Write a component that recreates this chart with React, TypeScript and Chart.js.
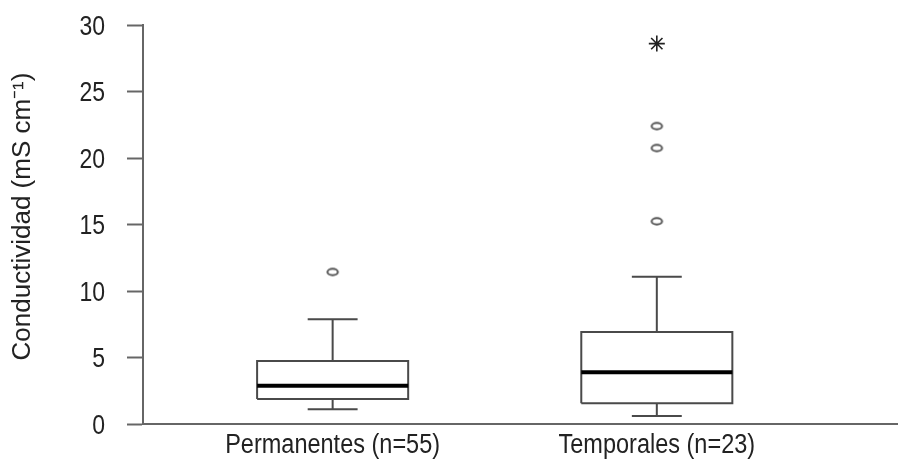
import React, { useEffect, useRef } from 'react';
import { Chart, registerables } from 'chart.js';

Chart.register(...registerables);

// ---- data ----
const categories = ['Permanentes (n=55)', 'Temporales (n=23)'];
const positions = [1, 2];
const whiskerLow = [1.1, 0.6];
const q1 = [1.88, 1.56];
const medians = [2.88, 3.89];
const q3 = [4.74, 6.92];
const whiskerHigh = [7.87, 11.07];
const outliers: number[][] = [[11.43], [15.24, 20.75, 22.4]];
const extremes: number[][] = [[], [28.6]];
const yTickValues = [0, 5, 10, 15, 20, 25, 30];
const yTitle = 'Conductividad (mS cm\u207B\u00B9)';

// ---- styling / geometry ----
const BOX_HALF = 0.233;
const CAP_HALF = 0.077;
const TEXT = '#222222';
const AXIS = '#666666';
const BOXLINE = '#4a4a4a';
const FAMILY = '"Liberation Sans", Arial, sans-serif';
const STRETCH = 1.18; // text in the reference is drawn slightly tall

function ellipseCanvas(): HTMLCanvasElement {
  const cv = document.createElement('canvas');
  cv.width = 15;
  cv.height = 11;
  const ctx = cv.getContext('2d')!;
  ctx.strokeStyle = '#555555';
  ctx.lineWidth = 2;
  ctx.beginPath();
  ctx.ellipse(7.5, 5.5, 5.2, 3.2, 0, 0, Math.PI * 2);
  ctx.stroke();
  return cv;
}

const textPlugin = {
  id: 'tallText',
  afterDraw(chart: any) {
    const ctx = chart.ctx as CanvasRenderingContext2D;
    const xs = chart.scales.x;
    const ys = chart.scales.y;
    ctx.save();
    ctx.fillStyle = TEXT;
    // y tick labels
    ctx.font = `23px ${FAMILY}`;
    ctx.textAlign = 'right';
    ctx.textBaseline = 'alphabetic';
    yTickValues.forEach((v) => {
      const py = ys.getPixelForValue(v);
      ctx.save();
      ctx.translate(ys.right - 16 - 22, py + 9.5);
      ctx.scale(1, STRETCH);
      ctx.fillText(String(v), 0, 0);
      ctx.restore();
    });
    // x category labels
    ctx.font = `23.5px ${FAMILY}`;
    ctx.textAlign = 'center';
    positions.forEach((p, i) => {
      const px = xs.getPixelForValue(p);
      ctx.save();
      ctx.translate(px, xs.top + 29);
      ctx.scale(1, STRETCH);
      ctx.fillText(categories[i], 0, 0);
      ctx.restore();
    });
    // y axis title
    ctx.font = `26px ${FAMILY}`;
    ctx.textAlign = 'center';
    ctx.textBaseline = 'middle';
    ctx.save();
    ctx.translate(23, (ys.top + ys.bottom) / 2 - 8);
    ctx.rotate(-Math.PI / 2);
    ctx.fillText(yTitle, 0, 0);
    ctx.restore();
    ctx.restore();
  },
};

export default function App() {
  const ref = useRef<HTMLCanvasElement | null>(null);

  useEffect(() => {
    document.body.style.margin = '0';
    const canvas = ref.current;
    if (!canvas) return;
    const ell = ellipseCanvas();

    const datasets: any[] = [];
    positions.forEach((p, i) => {
      datasets.push({
        data: [
          { x: p - BOX_HALF, y: q1[i] },
          { x: p + BOX_HALF, y: q1[i] },
          { x: p + BOX_HALF, y: q3[i] },
          { x: p - BOX_HALF, y: q3[i] },
          { x: p - BOX_HALF, y: q1[i] },
        ],
        showLine: true,
        borderColor: BOXLINE,
        borderWidth: 2,
        pointRadius: 0,
        borderJoinStyle: 'miter',
        order: 3,
      });
      datasets.push({
        data: [
          { x: p, y: q3[i] },
          { x: p, y: whiskerHigh[i] },
          { x: p, y: null },
          { x: p - CAP_HALF, y: whiskerHigh[i] },
          { x: p + CAP_HALF, y: whiskerHigh[i] },
          { x: p, y: null },
          { x: p, y: q1[i] },
          { x: p, y: whiskerLow[i] },
          { x: p, y: null },
          { x: p - CAP_HALF, y: whiskerLow[i] },
          { x: p + CAP_HALF, y: whiskerLow[i] },
        ],
        showLine: true,
        spanGaps: false,
        borderColor: BOXLINE,
        borderWidth: 2,
        pointRadius: 0,
        borderCapStyle: 'butt',
        order: 3,
      });
      datasets.push({
        data: [
          { x: p - BOX_HALF, y: medians[i] },
          { x: p + BOX_HALF, y: medians[i] },
        ],
        showLine: true,
        borderColor: '#000000',
        borderWidth: 4,
        pointRadius: 0,
        borderCapStyle: 'butt',
        order: 1,
      });
      datasets.push({
        data: outliers[i].map((v) => ({ x: p, y: v })),
        showLine: false,
        pointStyle: ell,
        pointRadius: 6,
        order: 0,
      });
      datasets.push({
        data: extremes[i].map((v) => ({ x: p, y: v })),
        showLine: false,
        pointStyle: 'star',
        pointRadius: 8,
        borderColor: '#222222',
        borderWidth: 1.6,
        order: 0,
      });
    });

    const chart = new Chart(canvas, {
      type: 'scatter',
      data: { datasets },
      plugins: [textPlugin],
      options: {
        animation: false,
        responsive: false,
        devicePixelRatio: 1,
        layout: { autoPadding: false, padding: { top: 25, right: 0, bottom: 0, left: 0 } },
        plugins: { legend: { display: false }, tooltip: { enabled: false } },
        scales: {
          x: {
            type: 'linear',
            min: 0.415,
            max: 2.744,
            afterBuildTicks: (s: any) => {
              s.ticks = positions.map((v) => ({ value: v }));
            },
            afterFit: (s: any) => {
              s.height = 35;
              s.paddingLeft = 0;
              s.paddingRight = 0;
            },
            grid: { display: true, drawOnChartArea: false, drawTicks: false },
            border: { display: true, color: AXIS, width: 2 },
            ticks: { display: false, autoSkip: false },
          },
          y: {
            type: 'linear',
            min: yTickValues[0],
            max: yTickValues[yTickValues.length - 1],
            afterBuildTicks: (s: any) => {
              s.ticks = yTickValues.map((v) => ({ value: v }));
            },
            afterFit: (s: any) => {
              s.width = 143;
              s.paddingTop = 0;
              s.paddingBottom = 0;
            },
            grid: {
              display: true,
              drawOnChartArea: false,
              drawTicks: true,
              tickLength: 16,
              tickWidth: 2,
              tickColor: AXIS,
            },
            border: { display: true, color: AXIS, width: 2 },
            ticks: { display: false },
          },
        },
      },
    });
    return () => chart.destroy();
  }, []);

  return (
    <div style={{ width: 898, height: 459 }}>
      <canvas ref={ref} width={898} height={459} />
    </div>
  );
}
